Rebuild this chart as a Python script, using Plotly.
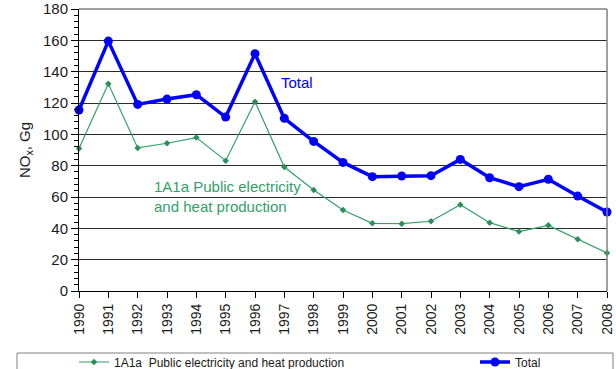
import plotly.graph_objects as go

years = list(range(1990, 2009))
total = [115.5, 159.5, 119.1, 122.5, 125.3, 111.0, 151.5, 110.2, 95.5, 82.1,
         73.0, 73.4, 73.6, 84.0, 72.3, 66.6, 71.3, 60.6, 50.4]
public_elec = [91.0, 132.3, 91.3, 94.3, 97.9, 83.2, 120.8, 79.1, 64.5, 51.7,
               43.2, 43.0, 44.5, 55.1, 43.6, 37.9, 41.9, 33.0, 24.3]

y_ticks = list(range(0, 181, 20))
x_ticks = years

GREEN = "#33a06a"
BLUE = "#0000ff"
FONT = "Liberation Sans, Arial, sans-serif"

W, H = 616, 369
ML, MR, MT, MB = 79, 9, 9, 78
PW, PH = W - ML - MR, H - MT - MB


def px_x(px):
    return (px - ML) / PW


def px_y(py):
    return (H - MB - py) / PH


fig = go.Figure()

fig.add_trace(go.Scatter(
    x=years, y=public_elec, mode="lines+markers",
    name="1A1a\u00a0\u00a0Public electricity and heat production",
    line=dict(color=GREEN, width=1.2),
    marker=dict(symbol="diamond", size=5, color="#2a9058"),
    cliponaxis=False, legend="legend",
))
fig.add_trace(go.Scatter(
    x=years, y=total, mode="lines+markers", name="Total",
    line=dict(color=BLUE, width=3.5),
    marker=dict(symbol="circle", size=9, color=BLUE),
    cliponaxis=False, legend="legend2",
))

fig.update_layout(
    width=W, height=H,
    margin=dict(l=ML, r=MR, t=MT, b=MB, autoexpand=False),
    paper_bgcolor="white", plot_bgcolor="white",
    font=dict(family=FONT, color="#1a1a1a"),
    xaxis=dict(
        range=[1990, 2008], tickvals=x_ticks, ticktext=[str(y) for y in x_ticks],
        tickangle=-90, tickfont=dict(size=14, color="#1a1a1a"),
        showgrid=False, zeroline=False,
        showline=True, linecolor="black", linewidth=1,
        ticks="outside", ticklen=6, tickcolor="black",
    ),
    yaxis=dict(
        range=[0, 180], tickvals=y_ticks,
        tickfont=dict(size=15, color="#1a1a1a"),
        showgrid=True, gridcolor="#2a2a2a", gridwidth=1, zeroline=False,
        showline=True, linecolor="black", linewidth=1,
        ticks="outside", ticklen=7, tickcolor="black",
        minor=dict(dtick=4, ticks="outside", ticklen=4, tickcolor="black",
                   showgrid=False),
        title=dict(text="NO<sub>x</sub>, Gg", font=dict(size=15, color="#1a1a1a"),
                   standoff=8),
    ),
    legend=dict(
        x=px_x(74), y=px_y(362), xanchor="left", yanchor="middle",
        orientation="h", bgcolor="rgba(0,0,0,0)", borderwidth=0,
        font=dict(size=12, color="#1a1a1a"),
    ),
    legend2=dict(
        x=px_x(475), y=px_y(362), xanchor="left", yanchor="middle",
        orientation="h", bgcolor="rgba(0,0,0,0)", borderwidth=0,
        font=dict(size=12, color="#1a1a1a"),
    ),
    showlegend=True,
)

# grey frame on top and right of the plot area
fig.add_shape(type="line", xref="paper", yref="paper", x0=0, x1=1, y0=1, y1=1,
              line=dict(color="#808080", width=1.5))
fig.add_shape(type="line", xref="paper", yref="paper", x0=1, x1=1, y0=0, y1=1,
              line=dict(color="#808080", width=1.5))

# legend frame
fig.add_shape(type="rect", xref="paper", yref="paper",
              x0=px_x(17), x1=px_x(613), y0=px_y(380), y1=px_y(353),
              line=dict(color="#808080", width=1), layer="below")

fig.add_annotation(x=1996.82, y=133.4, xref="x", yref="y", text="Total",
                   showarrow=False, xanchor="left", yanchor="middle",
                   font=dict(size=15, color=BLUE, family=FONT))
fig.add_annotation(x=1992.5, y=60.6, xref="x", yref="y",
                   text="1A1a Public electricity<br>and heat production",
                   showarrow=False, xanchor="left", yanchor="middle", align="left",
                   font=dict(size=15, color=GREEN, family=FONT))

fig.write_html("out.html")
